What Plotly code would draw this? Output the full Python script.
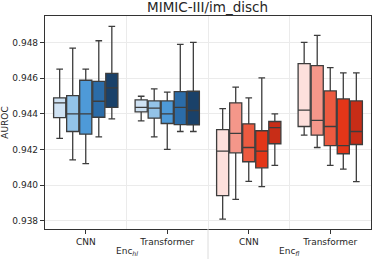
import plotly.graph_objects as go

# ---- data ----
groups = ["CNN", "Transformer", "CNN", "Transformer"]
encoders = ["Enc<sub><i>hl</i></sub>", "Enc<sub><i>fl</i></sub>"]
yticks = [0.938, 0.940, 0.942, 0.944, 0.946, 0.948]

blues = ["#cfe2f3", "#93c3e8", "#4e9ad8", "#2b6ca8", "#1a4169"]
reds = ["#fde0dc", "#f4978a", "#ec5a40", "#e33618", "#c82d17"]

# group 0: Enc_hl / CNN
cnn_hl_low = [0.94262, 0.94142, 0.94120, 0.94271, 0.94372]
cnn_hl_q1 = [0.94379, 0.94301, 0.94286, 0.94381, 0.94436]
cnn_hl_med = [0.94462, 0.94400, 0.94400, 0.94471, 0.94546]
cnn_hl_q3 = [0.94490, 0.94503, 0.94589, 0.94583, 0.94628]
cnn_hl_high = [0.94651, 0.94770, 0.94651, 0.94811, 0.94892]

# group 1: Enc_hl / Transformer
tr_hl_low = [0.94361, 0.94271, 0.94200, 0.94301, 0.94301]
tr_hl_q1 = [0.94411, 0.94376, 0.94346, 0.94340, 0.94338]
tr_hl_med = [0.94436, 0.94432, 0.94400, 0.94437, 0.94419]
tr_hl_q3 = [0.94479, 0.94473, 0.94473, 0.94525, 0.94527]
tr_hl_high = [0.94499, 0.94540, 0.94522, 0.94791, 0.94802]

# group 2: Enc_fl / CNN
cnn_fl_low = [0.93809, 0.93920, 0.94021, 0.93991, 0.94110]
cnn_fl_q1 = [0.93940, 0.94181, 0.94131, 0.94097, 0.94232]
cnn_fl_med = [0.94191, 0.94290, 0.94211, 0.94191, 0.94323]
cnn_fl_q3 = [0.94312, 0.94462, 0.94344, 0.94305, 0.94357]
cnn_fl_high = [0.94430, 0.94550, 0.94490, 0.94602, 0.94400]

# group 3: Enc_fl / Transformer
tr_fl_low = [0.94280, 0.94211, 0.94110, 0.94090, 0.94019]
tr_fl_q1 = [0.94329, 0.94280, 0.94221, 0.94176, 0.94228]
tr_fl_med = [0.94421, 0.94363, 0.94329, 0.94221, 0.94301]
tr_fl_q3 = [0.94682, 0.94671, 0.94529, 0.94484, 0.94473]
tr_fl_high = [0.94802, 0.94841, 0.94660, 0.94630, 0.94630]

stats = [
    (cnn_hl_low, cnn_hl_q1, cnn_hl_med, cnn_hl_q3, cnn_hl_high, blues),
    (tr_hl_low, tr_hl_q1, tr_hl_med, tr_hl_q3, tr_hl_high, blues),
    (cnn_fl_low, cnn_fl_q1, cnn_fl_med, cnn_fl_q3, cnn_fl_high, reds),
    (tr_fl_low, tr_fl_q1, tr_fl_med, tr_fl_q3, tr_fl_high, reds),
]

FONT = "DejaVu Sans"
EDGE = "#3d3d3d"
n_hue = 5
step = 0.8 / n_hue

fig = go.Figure()
for g, (lo, q1, med, q3, hi, pal) in enumerate(stats):
    for j in range(n_hue):
        pos = g + (j - (n_hue - 1) / 2) * step
        fig.add_trace(go.Box(
            x=[pos], lowerfence=[lo[j]], q1=[q1[j]], median=[med[j]],
            q3=[q3[j]], upperfence=[hi[j]],
            width=step * 0.93, whiskerwidth=0.55,
            fillcolor=pal[j], line=dict(color=EDGE, width=1.3),
            boxpoints=False, showlegend=False, hoverinfo="skip",
        ))

for k, enc in enumerate(encoders):
    fig.add_annotation(x=2 * k + 0.5, xref="x", y=0, yref="paper",
                       yshift=-22, yanchor="middle", showarrow=False,
                       text=enc, font=dict(family=FONT, size=9, color="#262626"))

fig.add_shape(type="line", xref="x", yref="paper", x0=1.5, x1=1.5,
              y0=0, y1=-0.15, line=dict(color="#dcdcdc", width=1))

fig.update_layout(
    width=374, height=259,
    margin=dict(l=44, r=2, t=16, b=30),
    paper_bgcolor="white", plot_bgcolor="white",
    font=dict(family=FONT, size=9, color="#262626"),
    title=dict(text="MIMIC-III/im_disch", x=0.555, xanchor="center",
               y=0.99, yanchor="top", font=dict(family=FONT, size=13.5, color="#262626")),
    boxmode="overlay",
)
fig.update_xaxes(
    range=[-0.5, 3.5], tickvals=list(range(len(groups))), ticktext=groups,
    ticks="outside", ticklen=4, tickcolor="#333333",
    showgrid=False, zeroline=False,
    showline=True, linecolor="#333333", linewidth=1.2, mirror=True,
    minor=dict(tick0=0.5, dtick=1, showgrid=True, gridcolor="#ebebeb", ticks=""),
)
fig.update_yaxes(
    range=[0.93753, 0.9495], tickvals=yticks, tickformat=".3f",
    ticks="outside", ticklen=4, tickcolor="#333333",
    showgrid=True, gridcolor="#ebebeb", zeroline=False,
    showline=True, linecolor="#333333", linewidth=1.2, mirror=True,
    title=dict(text="AUROC", standoff=4, font=dict(family=FONT, size=9)),
)

fig.write_html("out.html", config={"displayModeBar": False},
               post_script="document.body.style.margin='0';document.body.style.overflow='hidden';")
